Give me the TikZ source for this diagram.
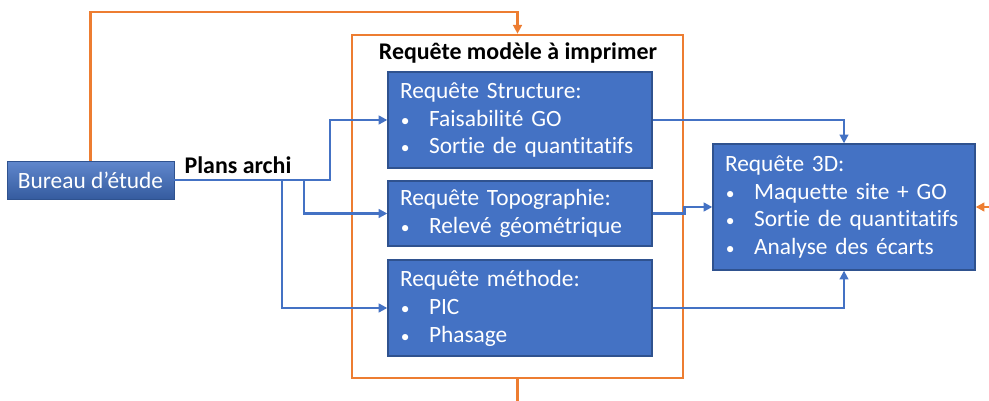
\documentclass[tikz,border=0pt]{standalone}
\usepackage{fontspec}
\setmainfont{Carlito}[Ligatures=CommonOff]
\usepackage{tikz}
\usepackage{xcolor}
\usetikzlibrary{arrows.meta,positioning,calc}

\definecolor{bleu}{HTML}{4472C4}
\definecolor{bleufonce}{HTML}{2F528F}
\definecolor{orange}{HTML}{ED7D31}
\newcommand{\puce}{\makebox[0.58cm][l]{\hspace{0.5pt}\scalebox{0.75}{\textbullet}}}

\begin{document}
\begin{tikzpicture}[
  x=0.02cm, y=-0.02cm,
  font=\fontsize{13.3}{15.9}\selectfont,
  boite/.style={draw=bleufonce, line width=0.8pt, fill=bleu, text=white, align=left, text width=4.8cm, inner xsep=0.24cm, inner ysep=0pt},
  titre/.style={font=\fontsize{13.6}{15.9}\selectfont\bfseries, inner sep=1pt},
  fleche/.style={-{Triangle[length=5pt,width=5pt]}, draw=bleu, line width=1.5pt},
  fin/.style={-{Triangle[length=5pt,width=5pt]}, draw=bleu, line width=1.1pt},
  orfleche/.style={-{Triangle[length=5pt,width=5pt]}, draw=orange, line width=1.5pt}
]
\useasboundingbox (0,0) rectangle (989,401);

% cadre des requetes
\node[draw=orange, line width=1.5pt, minimum width=6.62cm, minimum height=6.86cm] (cadre) at (517.5,206.5) {};
\node[titre] (titre) at (518,53) {Requête modèle à imprimer};

\node[boite, minimum height=1.92cm] (structure) at (520,120) {Requête Structure:\\\puce Faisabilité GO\\\puce Sortie de quantitatifs};
\node[boite, minimum height=1.3cm] (topo) at (520,213.5) {Requête Topographie:\\\puce Relevé géométrique};
\node[boite, minimum height=1.92cm] (methode) at (520,308) {Requête méthode:\\\puce PIC\\\puce Phasage};

\node[boite, text width=4.76cm, minimum height=2.52cm] (req3d) at (844,207) {Requête 3D:\\\puce Maquette site + GO\\\puce Sortie de quantitatifs\\\puce Analyse des écarts};

\node[draw=bleufonce, top color=bleu!85!white, bottom color=bleufonce!70!bleu, text=white, minimum width=3.34cm, minimum height=0.76cm, inner sep=0pt] (bureau) at (90.5,180) {Bureau d’étude};
\node[titre] (plans) at (238,165) {Plans archi};

% plans vers les requetes
\coordinate (b1) at (304,180);
\coordinate (b2) at (282,180);
\draw[fleche] (bureau.east) -- (330,180) |- (structure.west);
\draw[fleche] (b1) |- (topo.west);
\draw[fleche] (b2) |- (methode.west);

% requetes vers la 3D
\draw[fin] (structure.east) -| (req3d.north);
\draw[fleche] (topo.east) -- (topo.east -| cadre.east) |- (req3d.west);
\draw[fin] (methode.east) -| (req3d.south);

% boucles orange
\coordinate (haut) at (517.5,12);
\coordinate (bas) at (517.5,401);
\coordinate (droite) at (989,207);
\draw[orfleche] (bureau.north) |- (haut) -- (cadre.north);
\draw[draw=orange, line width=1.5pt] (cadre.south) -- (bas);
\draw[orfleche] (droite) -- (req3d.east);
\end{tikzpicture}
\end{document}
